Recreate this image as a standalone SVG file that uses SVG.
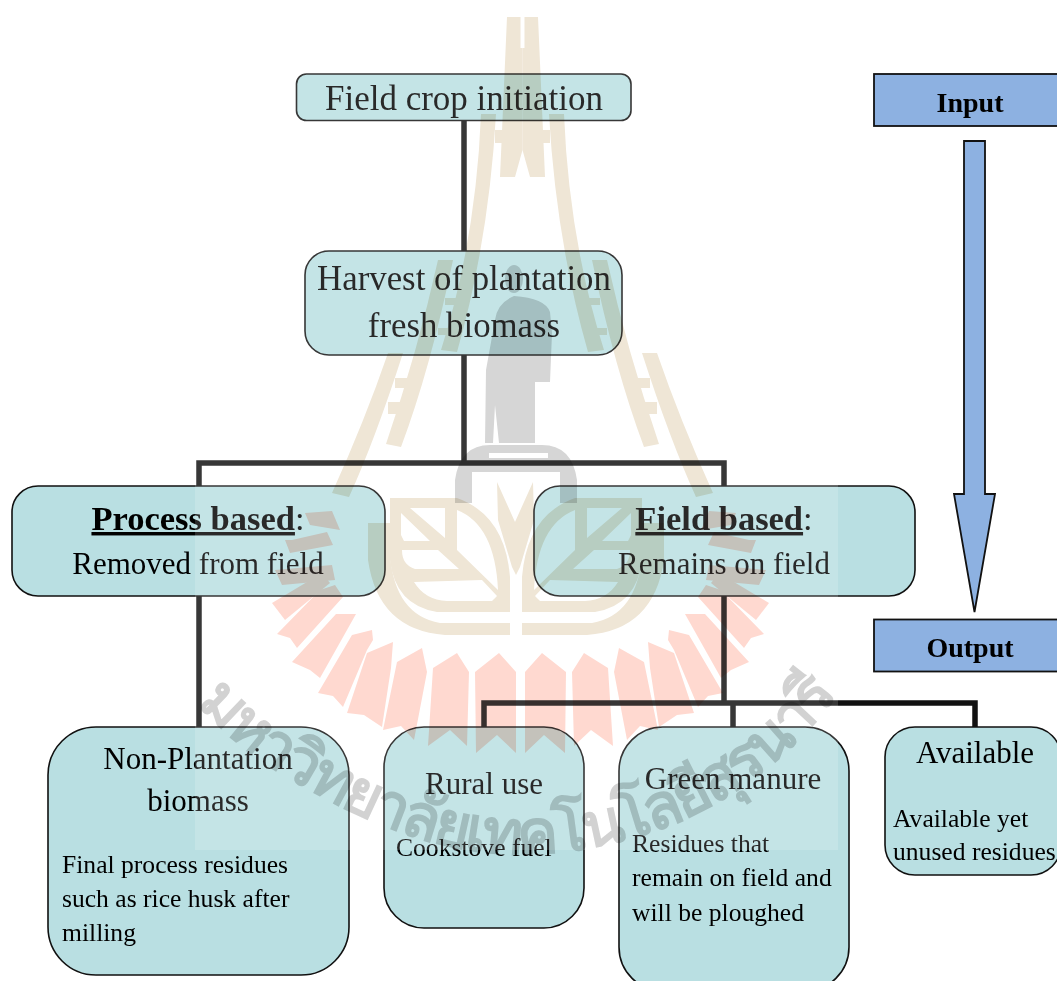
<svg xmlns="http://www.w3.org/2000/svg" xmlns:xlink="http://www.w3.org/1999/xlink" width="1057" height="981" viewBox="0 0 1057 981">
<style>
text{font-family:"Liberation Serif","Noto Sans",serif;fill:#000}
.box{fill:#b9dfe2;stroke:#111;stroke-width:1.6}
.blue{fill:#8db1e1;stroke:#111;stroke-width:1.8}
.con{fill:none;stroke:#111;stroke-width:5.5}
.c{text-anchor:middle}
.t35{font-size:35px}.t33{font-size:34.800px}.t29{font-size:31px}.t24{font-size:25.600px}
.in{font-size:28px;font-weight:bold;text-anchor:middle}
.tan{fill:#efe6d6}
.ray{fill:#ffd9d0}
.gr{fill:#d6d6d6}
.m{mix-blend-mode:multiply}
</style>
<defs>
<g id="rays">
<polygon points="499,653 516,672 516,753 497,735 476,753 475,672"/>
<polygon points="457,653 469,672 467,746 450,730 428,746 433,668"/>
<polygon points="422,648 427,672 414,740 401,726 383,730 397,662"/>
<polygon points="393,642 391,668 382,727 364,715 347,713 367,653"/>
<polygon points="352,635 372,630 373,640 367,650 343,707 333,696 318,693"/>
<polygon points="336,614 356,614 320,678 310,670 292,662"/>
<polygon points="320,590 335,585 343,597 297,648 290,638 277,634"/>
<polygon points="272,603 285,620 330,583 322,573"/>
<polygon points="275,570 282,585 335,580 332,565"/>
<polygon points="285,540 290,553 333,545 327,532 292,540"/>
<polygon points="305,513 310,525 340,530 332,511"/>
</g>
<g id="tower">
<path d="M507 17H520.500V48H522.500V150L515 177H500Z"/>
<path d="M481 114H496Q489 240 457 352L441 350Q476 240 481 114Z"/>
<path d="M438 260H453Q430 370 401 447L386 444Q418 350 438 260Z"/>
<path d="M388 353H403Q375 440 349 497L332 493Q365 420 388 353Z"/>
<rect x="495" y="130" width="12" height="13"/>
<rect x="445" y="298" width="18" height="7"/>
<rect x="438" y="328" width="18" height="7"/>
<rect x="395" y="378" width="20" height="10"/>
<rect x="388" y="402" width="20" height="12"/>
</g>
<g id="leaf" class="tan">
<path fill-rule="evenodd" d="M390 498H457Q505 515 510 577V612H437Q395 605 390 560ZM401 513V535L404 541H430ZM410 508H445V538ZM402 550H438L459 569H415Q402 565 402 550ZM457 510Q495 525 498 590L457 550ZM414 582L482 580L497 596L492 601H447Q425 600 414 582Z"/>
<path d="M368 523H390V555Q395 615 440 623H510V635H445Q378 630 368 560Z"/>
</g>
<path id="arc" d="M196 704Q250 760 315 793Q420 852 520 855Q640 852 730 795Q800 750 842 688"/>
</defs>
<g id="connectors">
<path class="con" d="M464 120V463M199 486V463H724V486M199 596V727M724 596V703M484 727V703H975V727M733 703V727"/>
</g>
<g id="field-crop"><rect class="box" x="296.500" y="74" width="334.500" height="46.500" rx="10"/><text class="c t35" x="464" y="110">Field crop initiation</text></g>
<g id="harvest"><rect class="box" x="305" y="251" width="317" height="104" rx="24"/><text class="c t33" x="464" y="290">Harvest of plantation</text><text class="c t33" x="464" y="337">fresh biomass</text></g>
<g id="process-based"><rect class="box" x="12" y="486" width="373" height="110" rx="26"/><text class="c" x="198" y="530" font-size="34.500px"><tspan font-weight="bold" text-decoration="underline">Process based</tspan>:</text><text class="c t29" x="198" y="574">Removed from field</text></g>
<g id="field-based"><rect class="box" x="534" y="486" width="381" height="110" rx="26"/><text class="c" x="724" y="530" font-size="34.500px"><tspan font-weight="bold" text-decoration="underline">Field based</tspan>:</text><text class="c t29" x="724" y="574">Remains on field</text></g>
<g id="non-plantation"><rect class="box" x="48" y="727" width="301" height="248" rx="48"/><text class="c t29" x="198" y="769">Non-Plantation</text><text class="c t29" x="198" y="811">biomass</text><text class="t24" x="62" y="873">Final process residues</text><text class="t24" x="62" y="907">such as rice husk after</text><text class="t24" x="62" y="941">milling</text></g>
<g id="rural-use"><rect class="box" x="384" y="727" width="200" height="201" rx="40"/><text class="c t29" x="484" y="794">Rural use</text><text class="t24" x="396" y="856">Cookstove fuel</text></g>
<g id="green-manure"><rect class="box" x="619" y="727" width="230" height="264" rx="44"/><text class="c t29" x="733" y="789">Green manure</text><text class="t24" x="632" y="852">Residues that</text><text class="t24" x="632" y="886">remain on field and</text><text class="t24" x="632" y="921">will be ploughed</text></g>
<g id="available"><rect class="box" x="885" y="727" width="176" height="148" rx="30"/><text class="c t29" x="975" y="763">Available</text><text class="t24" x="893" y="827">Available yet</text><text class="t24" x="893" y="860">unused residues</text></g>
<g id="input"><rect class="blue" x="874" y="74" width="190" height="52"/><text class="in" x="970" y="112">Input</text></g>
<g id="flow-arrow"><polygon class="blue" points="964,141 985,141 985,494 995,494 974.500,612 954,494 964,494"/></g>
<g id="output"><rect class="blue" x="874" y="619.500" width="190" height="52"/><text class="in" x="970" y="657">Output</text></g>
<rect x="195" y="17" width="643" height="833" fill="#fff" opacity=".16"/>
<g id="watermark">
<g class="ray m"><use xlink:href="#rays"/><use xlink:href="#rays" transform="translate(1041 0) scale(-1 1)"/></g>
<g class="tan m"><use xlink:href="#tower"/><use xlink:href="#tower" transform="translate(1045 0) scale(-1 1)"/></g>
<g class="gr m">
<ellipse cx="514" cy="279" rx="9" ry="14"/>
<path d="M495 320Q497 303 514 296Q545 298 550 312L552 333L550 382H535V443H499L495 405L493 443H485L486 370Z"/>
<path d="M455 503V480Q460 445 490 445H542Q572 445 577 480V503H560V472H472V503ZM489 453V458H548V453Z" fill-rule="evenodd"/>
</g>
<g class="m"><use xlink:href="#leaf"/><use xlink:href="#leaf" transform="translate(1032 0) scale(-1 1)"/>
<polygon class="tan" points="497,482 515,522 533,482 534,520 520,567 516,575 512,567 498,520"/></g>
<text class="m" style="fill:#d2d2d2" font-size="62px" font-weight="bold" font-family="'Noto Sans','DejaVu Sans',sans-serif"><textPath xlink:href="#arc" textLength="735" lengthAdjust="spacing">มหาวิทยาลัยเทคโนโลยีสุรนารี</textPath></text>
</g>
</svg>
